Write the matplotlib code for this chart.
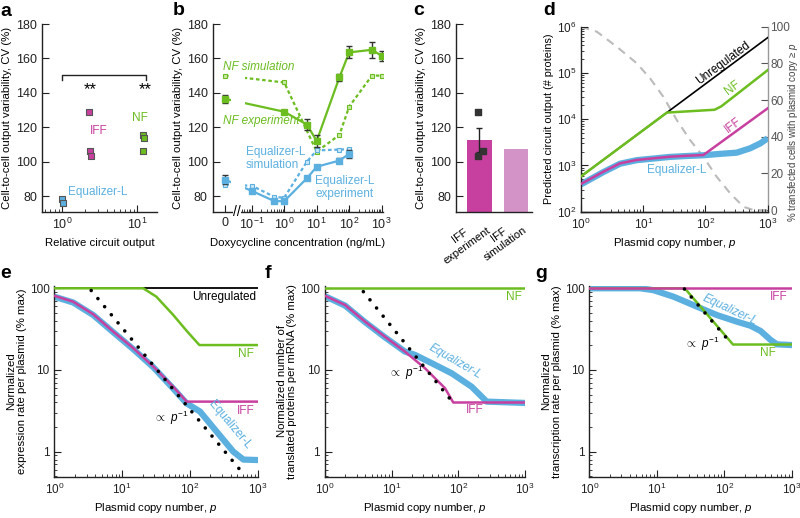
import numpy as np
import matplotlib
matplotlib.use("Agg")
import matplotlib.pyplot as plt
import matplotlib.transforms as mtransforms
from matplotlib.ticker import LogLocator, NullFormatter, FixedLocator, FixedFormatter

plt.rcParams['font.family'] = ['Liberation Sans', 'DejaVu Sans']
plt.rcParams['mathtext.fontset'] = 'custom'
plt.rcParams['mathtext.rm'] = 'Liberation Sans'
plt.rcParams['mathtext.it'] = 'Liberation Sans:italic'
plt.rcParams['mathtext.bf'] = 'Liberation Sans:bold'
plt.rcParams['axes.linewidth'] = 1.0
plt.rcParams['axes.edgecolor'] = '#222222'
plt.rcParams['xtick.direction'] = 'in'
plt.rcParams['ytick.direction'] = 'in'
plt.rcParams['xtick.major.size'] = 5
plt.rcParams['ytick.major.size'] = 5
plt.rcParams['xtick.minor.size'] = 2.5
plt.rcParams['ytick.minor.size'] = 2.5
plt.rcParams['xtick.color'] = '#222222'
plt.rcParams['ytick.color'] = '#222222'

GREEN = '#6cbd1f'
MAGENTA = '#c8409f'
BLUE = '#5bb0e0'
PINK_LIGHT = '#d393c6'
GRAY = '#bbbbbb'

# ---- panel a: CV vs relative output
a_eq_x = [1.0, 1.03]
a_eq_y = [78, 76]
a_iff_x = [2.28, 2.33, 2.45]
a_iff_y = [129, 106, 103]
a_nf_x = [12.2, 12.5, 12.0]
a_nf_y = [115.5, 113.5, 106]

# ---- panel b: CV vs doxycycline (ng/mL)
b_nf_exp_dox = [0, 1, 5, 10, 50, 100, 500, 1000]
b_nf_exp = [136.5, 129, 121.5, 112, 149, 163.5, 165, 161.5]
b_nf_exp_err = [2.5, 1, 3, 3.5, 2, 3.5, 4.5, 3]
b_nf_sim_dox = [0, 1, 10, 50, 100, 500, 1000]
b_nf_sim = [150, 146, 105.8, 115.5, 132, 150, 150]
b_eq_dox = [0, 0.1, 0.5, 1, 5, 10, 50, 100]
b_eq_exp = [89.5, 83, 77, 77, 90.3, 97, 100.6, 104.5]
b_eq_exp_err = [2.5, 1, 1, 1, 1, 1, 1.5, 2.5]
b_eq_sim = [86.5, 86, 79.5, 79, 100, 106.5, 107, 107.2]
ZERO_POS = -1.82  # where dox = 0 sits on the broken axis (log units)

# ---- panel c: IFF experiment vs simulation
c_labels = ['IFF\nexperiment', 'IFF\nsimulation']
c_values = [112.8, 107.6]
c_err = 7
c_points = [129, 106, 103]
c_jitter = [-0.03, 0.1, -0.03]

# ---- panel d: predicted output vs plasmid copy number
d_unreg_p = [1, 1000]
d_unreg = [580, 5.8e5]
d_nf_p = [1, 24, 140, 180, 1000]
d_nf = [580, 13900, 16000, 19000, 1.15e5]
d_iff_p = [1, 2.29, 4.24, 7.86, 14.5, 27, 50, 92.5, 1000]
d_iff = [398, 733, 1110, 1315, 1426, 1545, 1620, 1680, 17200]
d_eq_p = [1, 2.29, 4.24, 7.86, 14.5, 27, 50, 92.5, 172, 318, 523, 760, 1000]
d_eq = [390, 720, 1090, 1300, 1410, 1530, 1600, 1660, 1780, 1890, 2350, 3000, 3880]
d_pct_p = [1, 1.79, 3.75, 7.9, 12.9, 21, 34.6, 56.5, 92.5, 151, 250, 407, 590, 1000]
d_pct = [100, 97.3, 89.1, 80, 71.8, 61.8, 49.1, 38.2, 29.1, 18.2, 9.1, 1.8, 0, 0]

# ---- panel e: expression rate per plasmid
e_unreg_p = [1, 1000]
e_unreg = [100, 100]
e_nf_p = [1, 20.5, 32, 57, 90, 138, 1000]
e_nf = [100, 100, 79, 47, 30, 20.2, 20.2]
e_iff_p = [1, 1.9, 3.76, 7.4, 14.6, 28.9, 57, 89.6, 1000]
e_iff = [81, 68.5, 48, 29.5, 18.5, 11, 6.2, 4.1, 4.1]
e_eq_p = [1, 1.9, 3.76, 7.4, 14.6, 28.9, 57, 89.6, 141, 248, 437, 616, 1000]
e_eq = [79, 67, 47, 29, 18, 10.8, 5.9, 3.9, 3.1, 1.76, 1.0, 0.8, 0.79]
e_dot_p = [3.5, 640]
e_dot = [94, 0.514]

# ---- panel f: translated proteins per mRNA
f_nf_p = [1, 1000]
f_nf = [100, 100]
f_iff_p = [1, 2, 4, 7.9, 15.8, 31.6, 63, 84, 1000]
f_iff = [81, 62.5, 39, 25.6, 16.8, 10.5, 6.0, 4.0, 4.0]
f_eq_p = [1, 2, 4, 7.9, 15.8, 22.4, 40, 79.6, 158, 266, 1000]
f_eq = [80, 61.5, 38.5, 25.2, 16.8, 15.3, 12.1, 9.1, 6.25, 4.1, 3.95]
f_dot_p = [3.76, 84]
f_dot = [91, 3.95]

# ---- panel g: transcription rate per plasmid
g_iff_p = [1, 1000]
g_iff = [100, 100]
g_nf_p = [1, 26, 135, 1000]
g_nf = [100, 100, 20.5, 20.5]
g_eq_p = [1, 5.7, 8.9, 17.7, 39.5, 78, 155, 245, 346, 488, 605, 1000]
g_eq = [100, 100, 95, 79, 59.6, 47, 39, 34.8, 30, 23.3, 20.6, 20.2]
g_dot_p = [25.7, 130]
g_dot = [98, 20.6]

W, H = 800, 518
fig = plt.figure(figsize=(W / 100, H / 100), dpi=100)


def rect(l, t, r, b):
    return [l / W, 1 - b / H, (r - l) / W, (b - t) / H]


def panel_letter(x, y, s):
    fig.text(x / W, 1 - y / H, s, fontsize=14, fontweight='bold', va='baseline', ha='left')


CV_LABEL = 'Cell-to-cell output variability, CV (%)'
LBL = 8.2

# ================= a =================
ax = fig.add_axes(rect(42, 24, 157, 212))
ax.set_xscale('log')
ax.set_xlim(0.54, 18.5)
ax.set_ylim(70.7, 180)
ax.scatter(a_eq_x, a_eq_y, marker='s', s=22, color=BLUE, edgecolor='#555555', lw=0.8, zorder=3)
ax.scatter(a_iff_x, a_iff_y, marker='s', s=22, color=MAGENTA, edgecolor='#555555', lw=0.8, zorder=3)
ax.scatter(a_nf_x, a_nf_y, marker='s', s=22, color=GREEN, edgecolor='#555555', lw=0.8, zorder=3)
ax.plot([1.0, 1.0, 13, 13], [147.2, 150.3, 150.3, 147.2], color='#222222', lw=1)
ax.text(2.35, 142, '**', ha='center', va='center', fontsize=12)
ax.text(13, 142, '**', ha='center', va='center', fontsize=12)
ax.text(3.07, 117.9, 'IFF', color=MAGENTA, ha='center', va='center', fontsize=8.5)
ax.text(10.8, 125.3, 'NF', color=GREEN, ha='center', va='center', fontsize=8.5)
ax.text(1.19, 82.5, 'Equalizer-L', color=BLUE, ha='left', va='center', fontsize=8.5)
ax.set_yticks(range(80, 181, 20))
ax.xaxis.set_minor_formatter(NullFormatter())
ax.tick_params(labelsize=9)
for s in ['top', 'right']:
    ax.spines[s].set_visible(False)
ax.set_ylabel(CV_LABEL, fontsize=LBL, labelpad=3)
ax.set_xlabel('Relative circuit output', fontsize=LBL, labelpad=4)

# ================= b =================
def dox_pos(d):
    d = np.asarray(d, dtype=float)
    return np.where(d > 0, np.log10(np.where(d > 0, d, 1)), ZERO_POS)

ax = fig.add_axes(rect(212.7, 24, 383, 212))
ax.set_xlim(-2.2, 3.04)
ax.set_ylim(70.7, 180)
xs = dox_pos(b_nf_sim_dox)
ax.plot(xs, b_nf_sim, color=GREEN, lw=1.6, dashes=(1.6, 1.2), zorder=2)
ax.plot(xs, b_nf_sim, 's', ms=3.5, mfc='#c9eaa9', mec=GREEN, mew=0.8, zorder=3)
xs = dox_pos(b_eq_dox)
ax.plot(xs, b_eq_sim, color=BLUE, lw=1.6, dashes=(1.6, 1.2), zorder=2)
ax.plot(xs, b_eq_sim, 's', ms=3.5, mfc='#cfe8f6', mec=BLUE, mew=0.8, zorder=3)
xs = dox_pos(b_nf_exp_dox)
ax.plot(xs, b_nf_exp, color=GREEN, lw=1.6, zorder=2)
ax.errorbar(xs, b_nf_exp, yerr=b_nf_exp_err, fmt='s', ms=4.5, color=GREEN, ecolor='#333333',
            elinewidth=1, capsize=2.5, capthick=1, zorder=3)
xs = dox_pos(b_eq_dox)
ax.plot(xs, b_eq_exp, color=BLUE, lw=1.6, zorder=2)
ax.errorbar(xs, b_eq_exp, yerr=b_eq_exp_err, fmt='s', ms=4.5, color=BLUE, ecolor='#333333',
            elinewidth=1, capsize=2.5, capthick=1, zorder=3)
# gap in the curves at the axis break
ax.axvspan(-1.64, -1.2, ymin=0.04, ymax=1, color='white', lw=0, zorder=2.2)
blend = mtransforms.blended_transform_factory(ax.transData, ax.transAxes)
ax.text(-1.45, 0, '//', transform=blend, ha='center', va='center', fontsize=10,
        bbox=dict(fc='white', ec='none', pad=0.3), zorder=5, clip_on=False)
ax.text(-1.88, 155, 'NF simulation', color=GREEN, style='italic', fontsize=8.5, va='center', zorder=4)
ax.text(-1.88, 123.5, 'NF experiment', color=GREEN, style='italic', fontsize=8.5, va='center', zorder=4)
ax.text(-1.18, 101.9, 'Equalizer-L\nsimulation', color=BLUE, fontsize=8.5, va='center',
        linespacing=1.15, zorder=4)
ax.text(0.95, 85, 'Equalizer-L\nexperiment', color=BLUE, fontsize=8.5, va='center',
        linespacing=1.15, zorder=4)
ax.set_xticks([ZERO_POS, -1, 0, 1, 2, 3])
ax.set_xticklabels(['0', '$10^{-1}$', '$10^{0}$', '$10^{1}$', '$10^{2}$', '$10^{3}$'])
minor = [np.log10(k * 10.0 ** n) for n in range(-1, 3) for k in range(2, 10)]
minor += [np.log10(k * 0.01) for k in range(5, 10)]
ax.set_xticks(minor, minor=True)
ax.set_yticks(range(80, 181, 20))
ax.tick_params(labelsize=9)
for s in ['top', 'right']:
    ax.spines[s].set_visible(False)
ax.set_ylabel(CV_LABEL, fontsize=LBL, labelpad=3)
ax.set_xlabel('Doxycycline concentration (ng/mL)', fontsize=LBL, labelpad=4)

# ================= c =================
ax = fig.add_axes(rect(456, 24, 532, 212))
ax.set_xlim(-0.644, 1.44)
ax.set_ylim(70.7, 180)
ax.bar([0, 1], c_values, width=0.68, color=[MAGENTA, PINK_LIGHT], zorder=1)
ax.errorbar([0], [c_values[0]], yerr=c_err, fmt='none', ecolor='#222222', elinewidth=1,
            capsize=2.5, capthick=1, zorder=3)
ax.scatter(np.array(c_jitter), c_points, marker='s', s=18, color='#333333', zorder=4)
ax.set_xticks([])
blend = mtransforms.blended_transform_factory(ax.transData, ax.transAxes)
for i, lab in enumerate(c_labels):
    ax.text(i + 0.35, -0.02, lab, transform=blend, rotation=36, ha='right', va='top',
            multialignment='center', fontsize=8, rotation_mode='default')
ax.set_yticks(range(80, 181, 20))
ax.tick_params(labelsize=9)
for s in ['top', 'right']:
    ax.spines[s].set_visible(False)
ax.set_ylabel(CV_LABEL, fontsize=LBL, labelpad=3)

# ================= d =================
ax = fig.add_axes(rect(581, 26.7, 767.7, 211.7))
axr = ax.twinx()
ax.set_zorder(axr.get_zorder() + 1)
ax.patch.set_visible(False)
axr.plot(d_pct_p, d_pct, color=GRAY, lw=1.5, dashes=(4, 3))
axr.set_xscale('log')
axr.set_ylim(-0.9, 100)
axr.set_yticks(range(0, 101, 20))
axr.tick_params(axis='y', labelsize=8.5, colors='#555555', direction='in', pad=2)
axr.spines['right'].set_color('#999999')
for s in ['top', 'left']:
    axr.spines[s].set_visible(False)
axr.set_ylabel('% transfected cells with plasmid copy ≥ $p$', fontsize=7, color='#444444')
axr.yaxis.set_label_coords(1.097, 0.43)

ax.loglog(d_eq_p, d_eq, color=BLUE, lw=4.5, solid_capstyle='butt', zorder=2)
ax.loglog(d_iff_p, d_iff, color=MAGENTA, lw=1.8, zorder=3)
ax.loglog(d_unreg_p, d_unreg, color='black', lw=1.2, zorder=3)
ax.loglog(d_nf_p, d_nf, color=GREEN, lw=1.8, zorder=4)
ax.set_xlim(1, 1000)
ax.set_ylim(100, 1e6)
ax.yaxis.set_major_locator(LogLocator(base=10, numticks=10))
ax.yaxis.set_minor_locator(LogLocator(base=10, subs=range(2, 10), numticks=20))
ax.xaxis.set_minor_locator(LogLocator(base=10, subs=range(2, 10), numticks=20))
ax.xaxis.set_minor_formatter(NullFormatter())
ax.yaxis.set_minor_formatter(NullFormatter())
ax.tick_params(labelsize=8.5)
for s in ['top', 'right']:
    ax.spines[s].set_visible(False)
ang = 36.6
ax.text(191, 1.64e5, 'Unregulated', rotation=ang, ha='center', va='center', fontsize=8.5,
        rotation_mode='anchor')
ax.text(277, 4.7e4, 'NF', rotation=ang, ha='center', va='center', fontsize=8.5, color=GREEN,
        rotation_mode='anchor')
ax.text(277, 7.5e3, 'IFF', rotation=ang, ha='center', va='center', fontsize=8.5, color=MAGENTA,
        rotation_mode='anchor')
ax.text(35, 790, 'Equalizer-L', ha='center', va='center', fontsize=8.5, color=BLUE)
ax.set_ylabel('Predicted circuit output (# proteins)', fontsize=7.8, labelpad=2)
ax.set_xlabel('Plasmid copy number, $p$', fontsize=LBL, labelpad=3)


# ================= e, f, g =================
def norm_axes(r, ylabel):
    a = fig.add_axes(r)
    a.set_xscale('log')
    a.set_yscale('log')
    a.set_xlim(1, 1000)
    a.set_ylim(0.494, 107.6)
    a.yaxis.set_major_locator(FixedLocator([1, 10, 100]))
    a.yaxis.set_major_formatter(FixedFormatter(['1', '10', '100']))
    a.yaxis.set_minor_locator(LogLocator(base=10, subs=range(2, 10), numticks=20))
    a.xaxis.set_minor_locator(LogLocator(base=10, subs=range(2, 10), numticks=20))
    a.xaxis.set_minor_formatter(NullFormatter())
    a.yaxis.set_minor_formatter(NullFormatter())
    a.tick_params(axis='y', labelsize=8.5)
    a.tick_params(axis='x', labelsize=8.5)
    for s in ['top', 'right']:
        a.spines[s].set_visible(False)
    a.set_ylabel(ylabel, fontsize=LBL, labelpad=2, linespacing=1.1)
    a.set_xlabel('Plasmid copy number, $p$', fontsize=LBL, labelpad=3)
    return a


def dotted(a, p, v):
    a.plot(p, v, color='black', lw=2.6, linestyle=(0, (0.01, 2.9)), dash_capstyle='round', zorder=5)


PROP = r'$\propto$ $p^{-1}$'

# e
ax = norm_axes(rect(54.3, 285.7, 257.7, 476.7), 'Normalized\nexpression rate per plasmid (% max)')
ax.plot(e_eq_p, e_eq, color=BLUE, lw=4.5, zorder=2)
ax.plot(e_iff_p, e_iff, color=MAGENTA, lw=1.8, zorder=3)
ax.plot(e_unreg_p, e_unreg, color='black', lw=1.3, zorder=3)
ax.plot(e_nf_p, e_nf, color=GREEN, lw=1.8, zorder=4)
dotted(ax, e_dot_p, e_dot)
ax.text(944, 79, 'Unregulated', ha='right', va='center', fontsize=8.5)
ax.text(881, 15.7, 'NF', ha='right', va='center', fontsize=8.5, color=GREEN)
ax.text(912, 3.15, 'IFF', ha='right', va='center', fontsize=8.5, color=MAGENTA)
ax.text(380, 2.1, 'Equalizer-L', rotation=-50, ha='center', va='center', fontsize=8.5,
        color=BLUE, rotation_mode='anchor')
ax.text(52.7, 2.58, PROP, ha='center', va='center', fontsize=8.5)

# f
ax = norm_axes(rect(325, 285.7, 525, 476.7), 'Normalized number of\ntranslated proteins per mRNA (% max)')
ax.plot(f_eq_p, f_eq, color=BLUE, lw=4.5, zorder=2)
ax.plot(f_iff_p, f_iff, color=MAGENTA, lw=1.8, zorder=3)
ax.plot(f_nf_p, f_nf, color=GREEN, lw=1.8, zorder=4)
dotted(ax, f_dot_p, f_dot)
ax.text(888, 77.6, 'NF', ha='right', va='center', fontsize=8.5, color=GREEN)
ax.text(178, 3.24, 'IFF', ha='center', va='center', fontsize=8.5, color=MAGENTA)
ax.text(89, 12.6, 'Equalizer-L', rotation=-30, style='italic', ha='center', va='center',
        fontsize=8.5, color=BLUE, rotation_mode='anchor')
ax.text(16.4, 9.1, PROP, ha='center', va='center', fontsize=8.5)

# g
ax = norm_axes(rect(589.3, 285.7, 791.7, 476.7), 'Normalized\ntranscription rate per plasmid (% max)')
ax.plot(g_eq_p, g_eq, color=BLUE, lw=4.5, zorder=2)
ax.plot(g_nf_p, g_nf, color=GREEN, lw=1.8, zorder=3)
ax.plot(g_iff_p, g_iff, color=MAGENTA, lw=1.8, zorder=4)
dotted(ax, g_dot_p, g_dot)
ax.text(857, 77.6, 'IFF', ha='right', va='center', fontsize=8.5, color=MAGENTA)
ax.text(437, 16, 'NF', ha='center', va='center', fontsize=8.5, color=GREEN)
ax.text(123, 54, 'Equalizer-L', rotation=-25, style='italic', ha='center', va='center',
        fontsize=8.5, color=BLUE, rotation_mode='anchor')
ax.text(47, 20.6, PROP, ha='center', va='center', fontsize=8.5)

panel_letter(0, 16, 'a')
panel_letter(173, 15, 'b')
panel_letter(413, 15, 'c')
panel_letter(543, 15, 'd')
panel_letter(0, 278, 'e')
panel_letter(265, 278, 'f')
panel_letter(535, 278, 'g')

fig.savefig('out.png', dpi=100)
